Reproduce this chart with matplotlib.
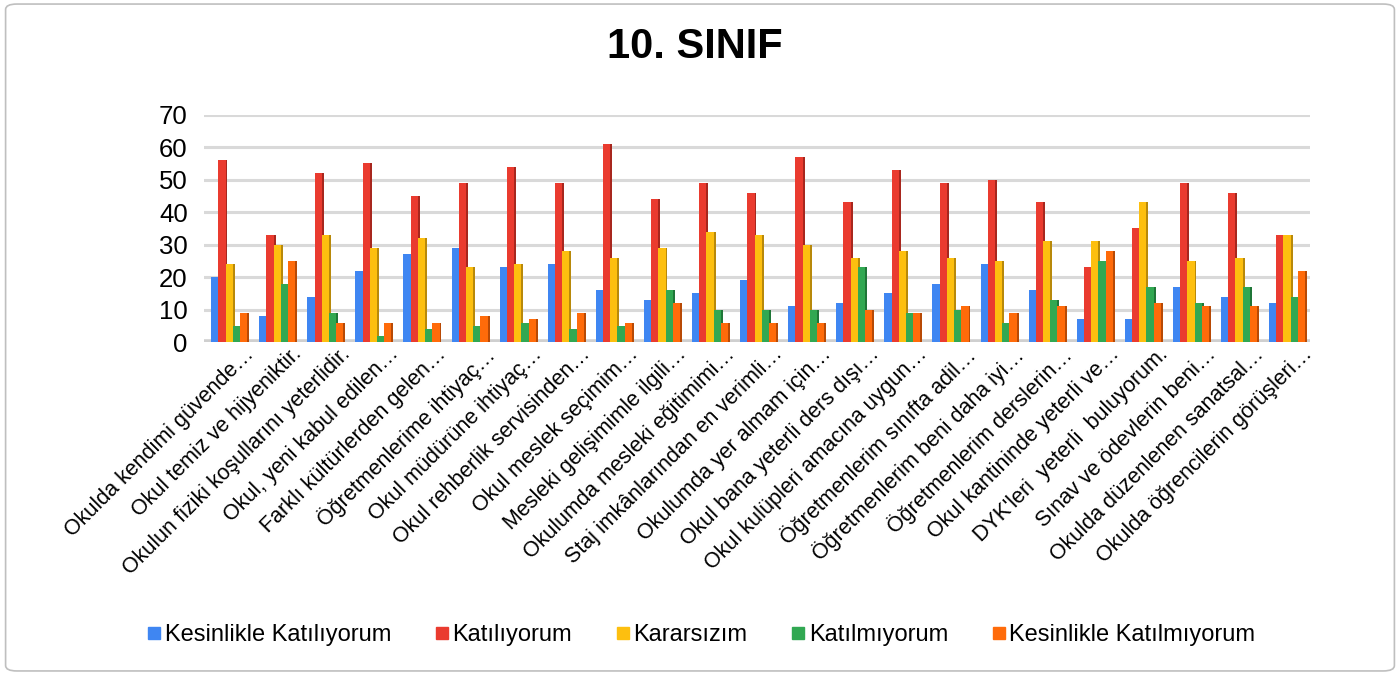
import numpy as np
import matplotlib
matplotlib.use("Agg")
import matplotlib.pyplot as plt
from matplotlib.patches import FancyBboxPatch
from matplotlib.transforms import ScaledTranslation

plt.rcParams["font.family"] = ["Liberation Sans", "DejaVu Sans"]

# --- Daten ---
kategoriler = [
    "Okulda kendimi güvende…",
    "Okul temiz ve hijyeniktir.",
    "Okulun fiziki koşullarını yeterlidir.",
    "Okul, yeni kabul edilen…",
    "Farklı kültürlerden gelen…",
    "Öğretmenlerime ihtiyaç…",
    "Okul müdürüne ihtiyaç…",
    "Okul rehberlik servisinden…",
    "Okul meslek seçimim…",
    "Mesleki gelişimimle ilgili…",
    "Okulumda mesleki eğitimimi…",
    "Staj imkânlarından en verimli…",
    "Okulumda yer almam için…",
    "Okul bana yeterli ders dışı…",
    "Okul kulüpleri amacına uygun…",
    "Öğretmenlerim sınıfta adil…",
    "Öğretmenlerim beni daha iyi…",
    "Öğretmenlerim derslerin…",
    "Okul kantininde yeterli ve…",
    "DYK'leri  yeterli  buluyorum.",
    "Sınav ve ödevlerin beni…",
    "Okulda düzenlenen sanatsal…",
    "Okulda öğrencilerin görüşleri…",
]

kesinlikle_katiliyorum = [20, 8, 14, 22, 27, 29, 23, 24, 16, 13, 15, 19, 11, 12, 15, 18, 24, 16, 7, 7, 17, 14, 12]
katiliyorum = [56, 33, 52, 55, 45, 49, 54, 49, 61, 44, 49, 46, 57, 43, 53, 49, 50, 43, 23, 35, 49, 46, 33]
kararsizim = [24, 30, 33, 29, 32, 23, 24, 28, 26, 29, 34, 33, 30, 26, 28, 26, 25, 31, 31, 43, 25, 26, 33]
katilmiyorum = [5, 18, 9, 2, 4, 5, 6, 4, 5, 16, 10, 10, 10, 23, 9, 10, 6, 13, 25, 17, 12, 17, 14]
kesinlikle_katilmiyorum = [9, 25, 6, 6, 6, 8, 7, 9, 6, 12, 6, 6, 6, 10, 9, 11, 9, 11, 28, 12, 11, 11, 22]

seriler = [
    ("Kesinlikle Katılıyorum", kesinlikle_katiliyorum, "#3f86f2", "#2a5fb8"),
    ("Katılıyorum", katiliyorum, "#ea3b2f", "#a8271e"),
    ("Kararsızım", kararsizim, "#fdbf0f", "#b8890a"),
    ("Katılmıyorum", katilmiyorum, "#31a852", "#1f7638"),
    ("Kesinlikle Katılmıyorum", kesinlikle_katilmiyorum, "#ff6b0a", "#b84a05"),
]

fig = plt.figure(figsize=(14, 6.75), dpi=100)
ax = fig.add_axes([0.146, 0.493, 0.79, 0.337])

# Rahmen um das ganze Diagramm
fig.patches.append(FancyBboxPatch((0.004, 0.006), 0.992, 0.988,
                                  boxstyle="round,pad=0,rounding_size=0.008",
                                  transform=fig.transFigure, fill=False,
                                  edgecolor="#bfbfbf", lw=1.2))

x = np.arange(len(kategoriler))
bw = 0.15
side = 0.04
for i, (name, vals, col, dark) in enumerate(seriler):
    pos = x - 0.36 + i * bw + bw / 2
    # Seitenflaeche (3D-Anmutung)
    ax.bar(pos + bw / 2 + side / 2, vals, width=side, color=dark, zorder=3,
           linewidth=0)
    ax.bar(pos, vals, width=bw, color=col, zorder=4, linewidth=0, label=name)

ax.set_xlim(-0.5, len(kategoriler) - 0.5)
ax.set_ylim(0, 70)
ax.set_yticks(range(0, 71, 10))
ax.yaxis.grid(True, color="#d9d9d9", lw=2.2, zorder=0)
ax.set_axisbelow(True)
for s in ax.spines.values():
    s.set_visible(False)
ax.axhline(0, color="#cfcfcf", lw=4, zorder=2)
ax.tick_params(axis="y", length=0, labelsize=18.5, pad=12)
ax.tick_params(axis="x", length=0, pad=1)

ax.set_xticks(x)
ax.set_xticklabels(kategoriler, rotation=45, ha="right",
                   rotation_mode="anchor", fontsize=15.5)
off = ScaledTranslation(0.15, 0.0, fig.dpi_scale_trans)
for lbl in ax.get_xticklabels():
    lbl.set_transform(lbl.get_transform() + off)

fig.text(0.496, 0.93, "10. SINIF", ha="center", va="center",
         fontsize=30, fontweight="bold")

handles = [plt.Line2D([], [], marker="s", ls="", color=c, markersize=9)
           for _, _, c, _ in seriler]
fig.legend(handles, [s[0] for s in seriler], loc="center",
           bbox_to_anchor=(0.5, 0.059), ncol=5, frameon=False,
           fontsize=17, handletextpad=0.05, columnspacing=1.75,
           handlelength=0.8)

fig.savefig("out.png", dpi=100)
